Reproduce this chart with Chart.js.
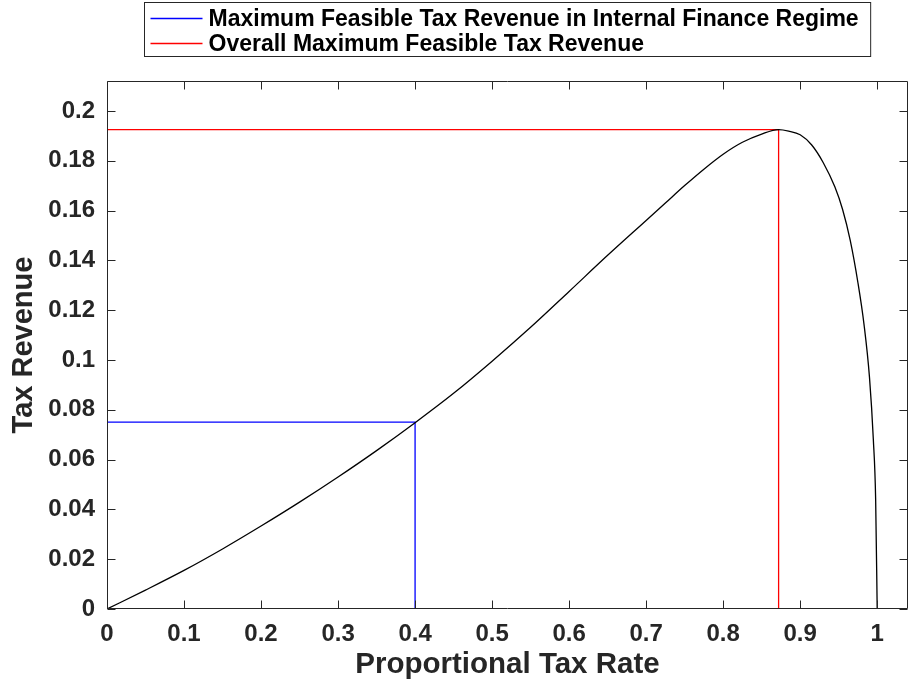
<!DOCTYPE html>
<html>
<head>
<meta charset="utf-8">
<script src="https://cdn.jsdelivr.net/npm/chart.js@4.4.1/dist/chart.umd.min.js"></script>
<style>
	html, body { margin: 0; padding: 0; background: #fff; }
	#wrap { width: 910px; height: 683px; }
</style>
</head>
<body>
<div id="wrap"><canvas id="chart"></canvas></div>
<script>
// curve
const taxRate = [0, 0.05, 0.1, 0.15, 0.2, 0.25, 0.3, 0.35, 0.4, 0.45, 0.5, 0.55, 0.6, 0.65, 0.7, 0.725, 0.75, 0.775, 0.8, 0.825, 0.85, 0.872,
	0.885, 0.9, 0.915, 0.93, 0.945, 0.955, 0.965, 0.975, 0.983, 0.99, 0.995, 0.998, 1]
const taxRevenue = [0, 0.0076, 0.0155, 0.0241, 0.0333, 0.0429, 0.053, 0.0636, 0.0748, 0.0866, 0.0995, 0.1131, 0.1275, 0.142, 0.156, 0.163, 0.17, 0.1766, 0.1826, 0.1874, 0.1907, 0.1925,
	0.1919, 0.1904, 0.1863, 0.1792, 0.1695, 0.1605, 0.148, 0.131, 0.114, 0.093, 0.068, 0.044, 0]

// [rate, revenue]
const internalMax = [0.4, 0.075]
const overallMax = [0.872, 0.1925]

const seriesLabels = [
	'Maximum Feasible Tax Revenue in Internal Finance Regime',
	'Overall Maximum Feasible Tax Revenue',
]

const xTickValues = [0, 0.1, 0.2, 0.3, 0.4, 0.5, 0.6, 0.7, 0.8, 0.9, 1]
const xTickLabels = ['0', '0.1', '0.2', '0.3', '0.4', '0.5', '0.6', '0.7', '0.8', '0.9', '1']
const yTickValues = [0, 0.02, 0.04, 0.06, 0.08, 0.1, 0.12, 0.14, 0.16, 0.18, 0.2]
const yTickLabels = ['0', '0.02', '0.04', '0.06', '0.08', '0.1', '0.12', '0.14', '0.16', '0.18', '0.2']

const axisColor = '#262626'
const fontFamily = '"Liberation Sans", Arial, Helvetica, sans-serif'

function dropLines(pt) {
	return [{x: 0, y: pt[1]}, {x: pt[0], y: pt[1]}, {x: pt[0], y: 0}]
}

// MATLAB style box, inward ticks and the legend box
const matlabAxes = {
	id: 'matlabAxes',
	afterDraw(chart) {
		const {ctx, chartArea: a, scales: {x, y}} = chart
		const L = Math.round(a.left) + 0.5, R = Math.round(a.right) - 0.5
		const T = Math.round(a.top) + 0.5, B = Math.round(a.bottom) - 0.5
		const tl = 8
		ctx.save()
		ctx.strokeStyle = axisColor
		ctx.lineWidth = 1
		ctx.beginPath()
		ctx.rect(L, T, R - L, B - T)
		xTickValues.forEach(v => {
			const px = Math.round(x.getPixelForValue(v)) + 0.5
			ctx.moveTo(px, B); ctx.lineTo(px, B - tl)
			ctx.moveTo(px, T); ctx.lineTo(px, T + tl)
		})
		yTickValues.forEach(v => {
			const py = Math.round(y.getPixelForValue(v)) + 0.5
			ctx.moveTo(L, py); ctx.lineTo(L + tl, py)
			ctx.moveTo(R, py); ctx.lineTo(R - tl, py)
		})
		ctx.stroke()

		// legend
		ctx.font = 'bold 23px ' + fontFamily
		const textW = Math.max(...seriesLabels.map(s => ctx.measureText(s).width))
		const lineLen = 52, padL = 6, gap = 6, padR = 12, rowH = 25, padT = 3
		const boxW = padL + lineLen + gap + textW + padR
		const boxH = rowH * seriesLabels.length + padT + 1
		const bx = Math.round((a.left + a.right) / 2 - boxW / 2) + 0.5
		const by = 2.5
		ctx.fillStyle = '#fff'
		ctx.fillRect(bx, by, boxW, boxH)
		ctx.strokeStyle = axisColor
		ctx.strokeRect(bx, by, boxW, boxH)
		ctx.textBaseline = 'middle'
		ctx.textAlign = 'left'
		seriesLabels.forEach((s, i) => {
			const ds = chart.data.datasets[i + 1]
			const cy = by + padT + rowH * i + rowH / 2
			ctx.strokeStyle = ds.borderColor
			ctx.lineWidth = 1.3
			ctx.beginPath()
			ctx.moveTo(bx + padL, Math.round(cy) + 0.5)
			ctx.lineTo(bx + padL + lineLen, Math.round(cy) + 0.5)
			ctx.stroke()
			ctx.fillStyle = '#000'
			ctx.fillText(s, bx + padL + lineLen + gap, cy + 1.5)
		})
		ctx.restore()
	}
}

const ctx = document.getElementById('chart').getContext('2d')
new Chart(ctx, {
	type: 'scatter',
	data: {
		datasets: [
			{
				label: 'Tax Revenue',
				data: taxRate.map((r, i) => ({x: r, y: taxRevenue[i]})),
				showLine: true,
				borderColor: '#000000',
				borderWidth: 1.3,
				pointRadius: 0,
				cubicInterpolationMode: 'monotone',
			},
			{
				label: seriesLabels[0],
				data: dropLines(internalMax),
				showLine: true,
				borderColor: '#0000ff',
				borderWidth: 1.3,
				pointRadius: 0,
			},
			{
				label: seriesLabels[1],
				data: dropLines(overallMax),
				showLine: true,
				borderColor: '#ff0000',
				borderWidth: 1.3,
				pointRadius: 0,
			},
		]
	},
	plugins: [matlabAxes],
	options: {
		responsive: true,
		maintainAspectRatio: false,
		animation: false,
		layout: {
			padding: {top: 81, right: 2, left: 0, bottom: 0}
		},
		scales: {
			x: {
				type: 'linear',
				min: 0,
				max: 1.04,
				afterBuildTicks: s => { s.ticks = xTickValues.map(v => ({value: v})) },
				afterFit: s => { s.height = 74 },
				grid: {display: false, drawTicks: false},
				border: {display: false},
				ticks: {
					padding: 11,
					color: axisColor,
					font: {family: fontFamily, size: 24, weight: 'bold'},
					callback: (v, i) => xTickLabels[i],
				},
				title: {
					display: true,
					text: 'Proportional Tax Rate',
					color: axisColor,
					font: {family: fontFamily, size: 29.5, weight: 'bold'},
					padding: {top: 0, bottom: 0},
				}
			},
			y: {
				type: 'linear',
				min: 0,
				max: 0.212,
				afterBuildTicks: s => { s.ticks = yTickValues.map(v => ({value: v})) },
				afterFit: s => { s.width = 107 },
				grid: {display: false, drawTicks: false},
				border: {display: false},
				ticks: {
					padding: 12,
					color: axisColor,
					font: {family: fontFamily, size: 24, weight: 'bold'},
					callback: (v, i) => yTickLabels[i],
				},
				title: {
					display: true,
					text: 'Tax Revenue',
					color: axisColor,
					font: {family: fontFamily, size: 29, weight: 'bold'},
					padding: {top: 7, bottom: 0},
				}
			}
		},
		plugins: {
			legend: {display: false},
			tooltip: {enabled: false},
			title: {display: false},
		}
	}
})
</script>
</body>
</html>
